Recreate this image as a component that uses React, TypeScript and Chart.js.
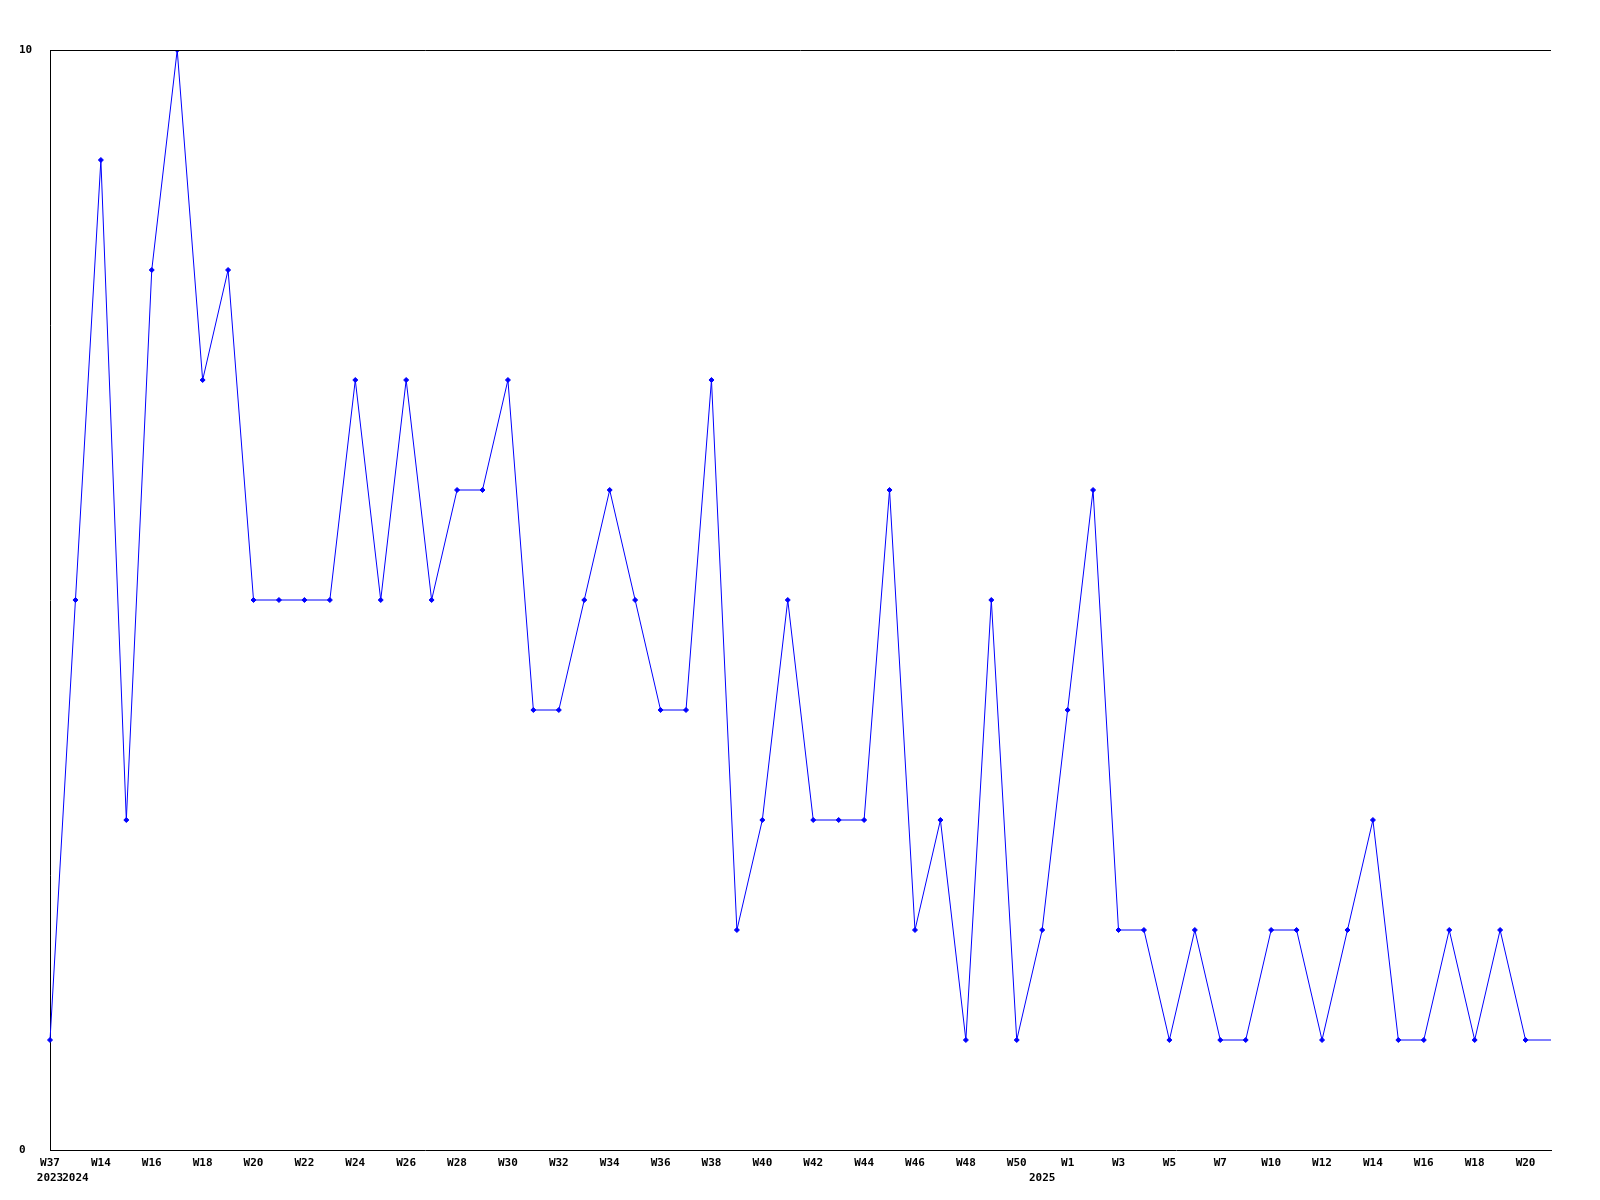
import React, { useEffect, useRef } from "react";
import { Chart, registerables } from "chart.js";

Chart.register(...registerables);

const weeks = [
  "W37", "W13", "W14", "W15", "W16", "W17", "W18", "W19", "W20", "W21",
  "W22", "W23", "W24", "W25", "W26", "W27", "W28", "W29", "W30", "W31",
  "W32", "W33", "W34", "W35", "W36", "W37", "W38", "W39", "W40", "W41",
  "W42", "W43", "W44", "W45", "W46", "W47", "W48", "W49", "W50", "W52",
  "W1", "W2", "W3", "W4", "W5", "W6", "W7", "W9", "W10", "W11",
  "W12", "W13", "W14", "W15", "W16", "W17", "W18", "W19", "W20", "W21",
];

const yearMarks: [number, string][] = [
  [0, "2023"],
  [1, "2024"],
  [39, "2025"],
];

const values = [
  1, 5, 9, 3, 8, 10, 7, 8, 5, 5,
  5, 5, 7, 5, 7, 5, 6, 6, 7, 4,
  4, 5, 6, 5, 4, 4, 7, 2, 3, 5,
  3, 3, 3, 6, 2, 3, 1, 5, 1, 2,
  4, 6, 2, 2, 1, 2, 1, 1, 2, 2,
  1, 2, 3, 1, 1, 2, 1, 2, 1, 1,
];

const yTicks = [0, 10];

const FONT = { family: "'DejaVu Sans Mono', monospace", size: 11, weight: "bold" as const, lineHeight: "15px" };

const topLine = {
  id: "topLine",
  afterDraw(chart: any) {
    const { ctx, chartArea } = chart;
    ctx.save();
    ctx.strokeStyle = "#000";
    ctx.lineWidth = 1;
    ctx.beginPath();
    ctx.moveTo(chartArea.left, Math.round(chartArea.top) + 0.5);
    ctx.lineTo(chartArea.right, Math.round(chartArea.top) + 0.5);
    ctx.stroke();
    ctx.restore();
  },
};

export default function App() {
  const ref = useRef<HTMLCanvasElement | null>(null);

  useEffect(() => {
    if (!ref.current) return;
    const chart = new Chart(ref.current, {
      type: "line",
      data: {
        labels: weeks,
        datasets: [
          {
            data: values,
            borderColor: "#0000ff",
            backgroundColor: "#0000ff",
            borderWidth: 1,
            pointStyle: "rectRot",
            pointRadius: values.map((_, i) => (i === values.length - 1 ? 0 : 2.5)),
            pointBorderWidth: 1,
            pointBorderColor: "#0000ff",
            pointBackgroundColor: "#0000ff",
            tension: 0,
            fill: false,
          },
        ],
      },
      options: {
        responsive: false,
        animation: false,
        devicePixelRatio: 1,
        layout: { padding: { top: 50, right: 49, left: 19, bottom: 0 } },
        plugins: {
          legend: { display: false },
          tooltip: { enabled: false },
        },
        scales: {
          x: {
            type: "category",
            offset: false,
            grid: { display: false, drawTicks: false },
            border: { display: true, color: "#000", width: 1 },
            afterFit: (scale: any) => {
              scale.height = 50;
            },
            ticks: {
              autoSkip: false,
              maxRotation: 0,
              minRotation: 0,
              padding: 6,
              color: "#000",
              font: FONT,
              callback: function (value: any, index: number) {
                const wk = index % 2 === 0 ? weeks[index] : "";
                const ym = yearMarks.find((m) => m[0] === index);
                if (ym) return [wk, ym[1]];
                return wk;
              },
            },
          },
          y: {
            min: yTicks[0],
            max: yTicks[1],
            grid: { display: false, drawTicks: false },
            border: { display: true, color: "#000", width: 1 },
            afterFit: (scale: any) => {
              scale.width = 31;
            },
            afterBuildTicks: (scale: any) => {
              scale.ticks = yTicks.map((v) => ({ value: v }));
            },
            ticks: {
              crossAlign: "far",
              padding: 4,
              color: "#000",
              font: FONT,
            },
          },
        },
      },
      plugins: [topLine],
    });
    return () => chart.destroy();
  }, []);

  return (
    <div style={{ position: "fixed", left: 0, top: 0, width: 1600, height: 1200, background: "#fff" }}>
      <canvas ref={ref} width={1600} height={1200} />
    </div>
  );
}
